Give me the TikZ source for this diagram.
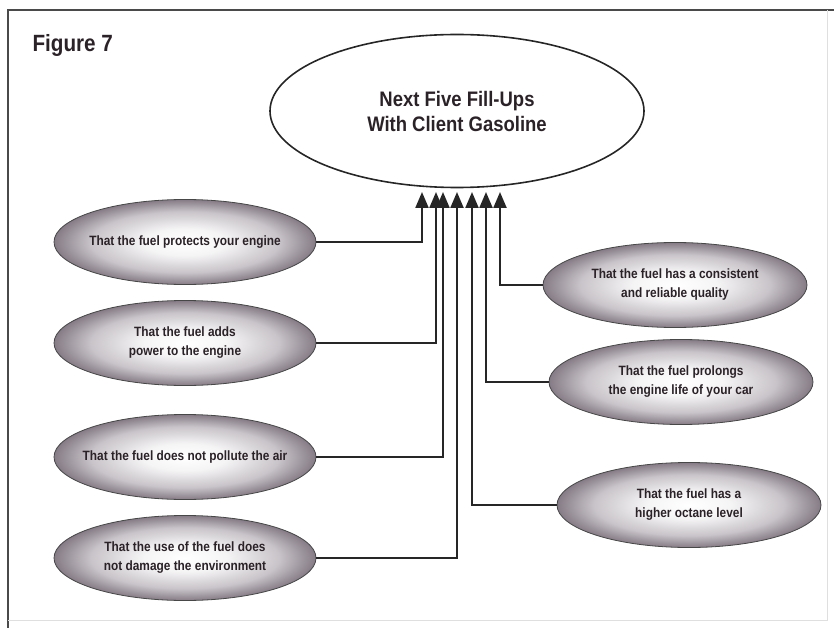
\documentclass[tikz,border=0pt]{standalone}
\usepackage{fontspec}
\setmainfont{Liberation Sans}[FakeStretch=0.88]
\usepackage{tikz}
\usetikzlibrary{arrows.meta,shapes.geometric}
\definecolor{OvalGray}{HTML}{857B86}
\definecolor{InkGray}{HTML}{262626}
\definecolor{TextDark}{HTML}{2B2228}
\definecolor{FrameGray}{HTML}{4A4A4A}
\pgfdeclareradialshading{ovalshade}{\pgfpoint{0bp}{0bp}}{%
  color(0bp)=(white); color(8bp)=(white!92!OvalGray);
  color(18bp)=(white!55!OvalGray); color(25bp)=(OvalGray); color(50bp)=(OvalGray)}

\begin{document}
\begin{tikzpicture}[
  x=1pt,y=-1pt,
  goal/.style={draw=InkGray,line width=1.6pt,ellipse,inner sep=0pt,minimum width=374pt,minimum height=153pt,align=center,text=TextDark,font=\bfseries\fontsize{21}{25}\selectfont},
  reason/.style={draw=InkGray!85,line width=0.8pt,ellipse,inner xsep=-30pt,inner ysep=0pt,minimum width=262pt,minimum height=85pt,align=center,shading=ovalshade,text=TextDark,font=\bfseries\fontsize{13.5}{19}\selectfont},
  link/.style={-{Triangle[length=16pt,width=13pt]},line width=2.2pt,InkGray}
]
\useasboundingbox (0,0) rectangle (834,628);
% frame
\draw[FrameGray,line width=1.6pt] (8,628) -- (8,10) -- (834,10);
\draw[gray!25,line width=1pt] (827,10) -- (827,620) -- (8,620);
\node[anchor=west,text=TextDark,font=\bfseries\fontsize{23.5}{26}\selectfont] (fig) at (29,45) {Figure 7};

\node[goal] (top) at (457,111) {Next Five Fill-Ups\\With Client Gasoline};

% left side
\node[reason] (protect) at (185,242) {That the fuel protects your engine};
\node[reason] (power) at (185,343) {That the fuel adds\\power to the engine};
\node[reason] (air) at (185,457) {That the fuel does not pollute the air};
\node[reason] (envir) at (185,558) {That the use of the fuel does\\not damage the environment};

% right side
\node[reason,minimum width=264pt] (quality) at (675,285) {That the fuel has a consistent\\and reliable quality};
\node[reason,minimum width=264pt] (life) at (681,382) {That the fuel prolongs\\the engine life of your car};
\node[reason,minimum width=264pt] (octane) at (689,505) {That the fuel has a\\higher octane level};

% arrow tips under the goal
\coordinate (t1) at (422,192);
\coordinate (t2) at (436,192);
\coordinate (t3) at (443,192);
\coordinate (t4) at (457,192);
\coordinate (t5) at (472,192);
\coordinate (t6) at (486,192);
\coordinate (t7) at (500,192);

\draw[link] (protect.east) -| (t1);
\draw[link] (power.east) -| (t2);
\draw[link] (air.east) -| (t3);
\draw[link] (envir.east) -| (t4);
\draw[link] (octane.west) -| (t5);
\draw[link] (life.west) -| (t6);
\draw[link] (quality.west) -| (t7);
\end{tikzpicture}
\end{document}
